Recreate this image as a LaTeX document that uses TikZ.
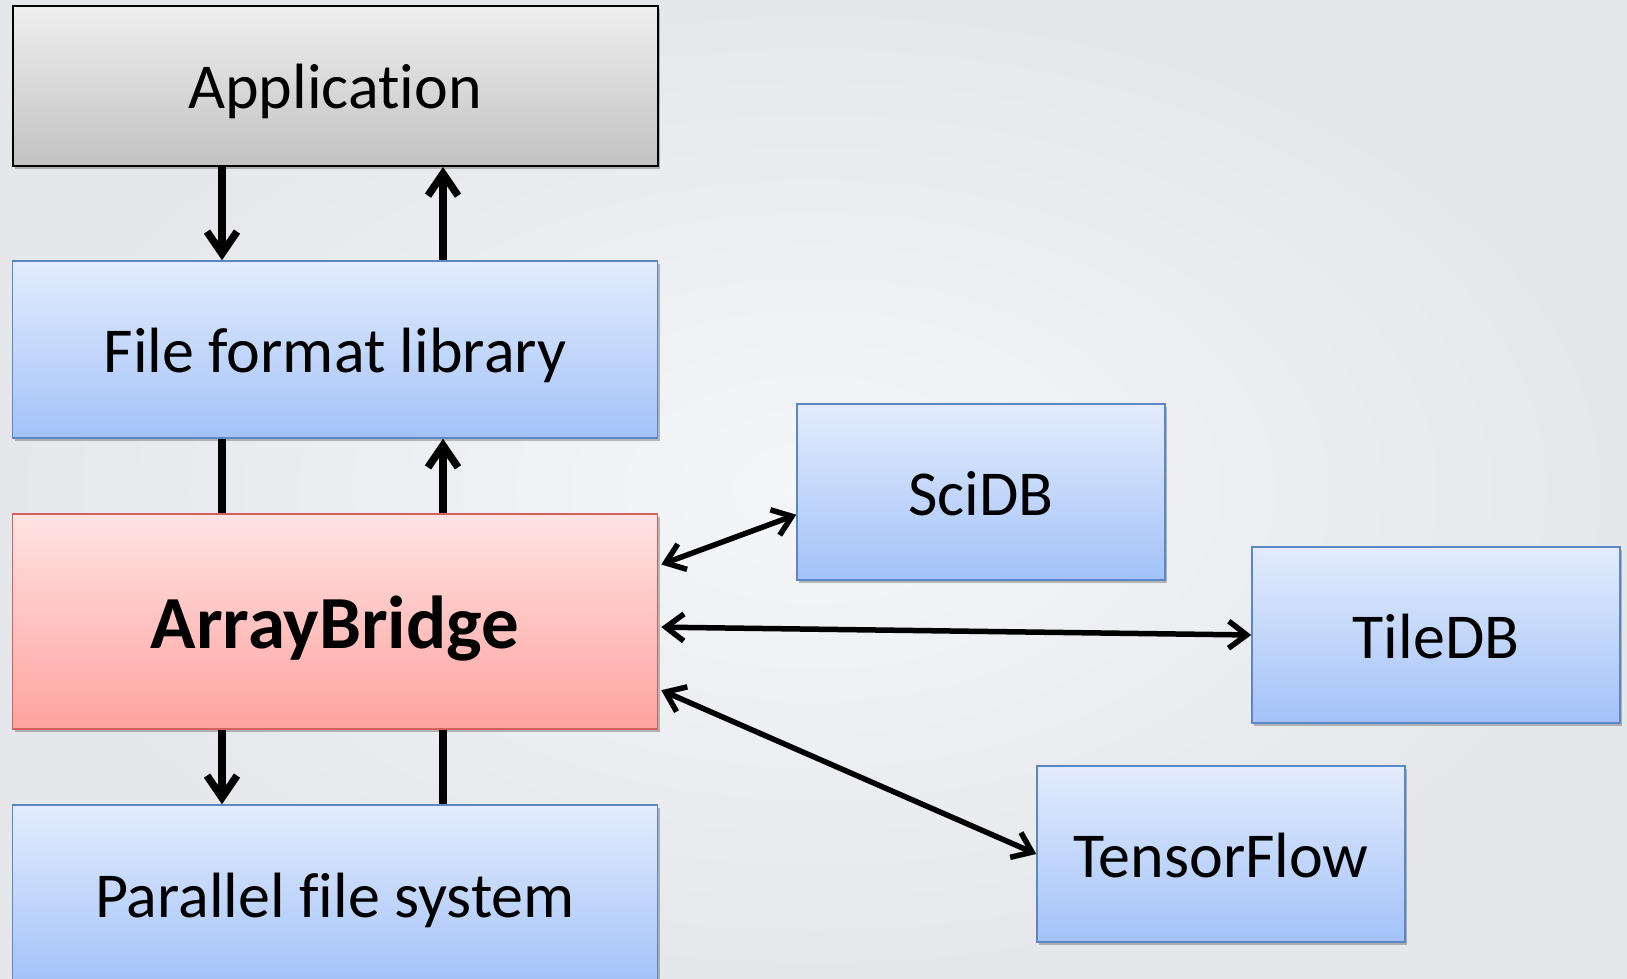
\documentclass[tikz,border=0pt]{standalone}
\usepackage{fontspec}
\setmainfont[Ligatures=NoCommon]{Carlito}
\usetikzlibrary{arrows.meta,shadows}

\definecolor{bluetop}{HTML}{E3ECFD}
\definecolor{bluebot}{HTML}{A3C2F8}
\definecolor{blueline}{HTML}{5B87C4}
\definecolor{redtop}{HTML}{FFE4E3}
\definecolor{redbot}{HTML}{FFA29F}
\definecolor{redline}{HTML}{D2625E}
\definecolor{greytop}{HTML}{EFEFEF}
\definecolor{greybot}{HTML}{C2C2C2}
\definecolor{bgin}{HTML}{F5F6F8}
\definecolor{bgout}{HTML}{E5E7EB}

\tikzstyle{box}=[rectangle, line width=1.5pt, inner sep=0pt, font=\fontsize{64}{70}\selectfont,
  text height=50pt, text depth=4pt,
  drop shadow={shadow xshift=2pt, shadow yshift=-3pt, opacity=0.25, fill=black}]
\tikzstyle{layer}=[box, minimum width=645pt]
\tikzstyle{store}=[box, minimum width=368pt, minimum height=176pt, draw=blueline, top color=bluetop, bottom color=bluebot]
\tikzstyle{blue box}=[draw=blueline, top color=bluetop, bottom color=bluebot]
\tikzstyle{link} = [draw, line width=7.5pt, -]
\tikzstyle{flow} = [draw, line width=7.5pt, -{Straight Barb[length=22pt, width=30pt]}]
\tikzstyle{swap} = [draw, line width=5.5pt, {Straight Barb[length=18pt, width=27pt]}-{Straight Barb[length=18pt, width=27pt]}]

\begin{document}
\begin{tikzpicture}[x=1pt, y=-1pt]
    \shade[inner color=bgin, outer color=bgout] (0,0) rectangle (1627,979);
    \useasboundingbox (0,0) rectangle (1627,979);
    \coordinate (lcol) at (222,0);
    \coordinate (rcol) at (443,0);

    \node[layer, minimum height=160pt, draw=black, line width=2pt, top color=greytop, bottom color=greybot] (app) at (335,86) {Application};
    \node[layer, blue box, minimum height=177pt] (ffl) at (335,349.5) {File format library};
    \node[layer, minimum height=215pt, draw=redline, top color=redtop, bottom color=redbot,
          font=\fontsize{75}{80}\selectfont\bfseries, text height=60pt, text depth=6pt] (ab) at (335,621.5) {ArrayBridge};
    \node[layer, blue box, minimum height=178pt] (pfs) at (335,894) {Parallel file system};

    \foreach \pos/\name/\txt in {{(981,492)/scidb/SciDB}, {(1436,635)/tiledb/TileDB}, {(1221,854)/tf/TensorFlow}}
        \node[store] (\name) at \pos {\txt};

    % stack
    \path[flow] (app.south -| lcol) -- (ffl.north -| lcol);
    \path[flow] (ffl.north -| rcol) -- (app.south -| rcol);
    \path[link] (ffl.south -| lcol) -- (ab.north -| lcol);
    \path[flow] (ab.north -| rcol) -- (ffl.south -| rcol);
    \path[flow] (ab.south -| lcol) -- (pfs.north -| lcol);
    \path[link] (pfs.north -| rcol) -- (ab.south -| rcol);

    % engines
    \foreach \from/\to in {10/scidb.187, -1/tiledb.west, -12/tf.west}
        \path[swap] ([xshift=3pt]ab.\from) -- (\to);
\end{tikzpicture}
\end{document}
